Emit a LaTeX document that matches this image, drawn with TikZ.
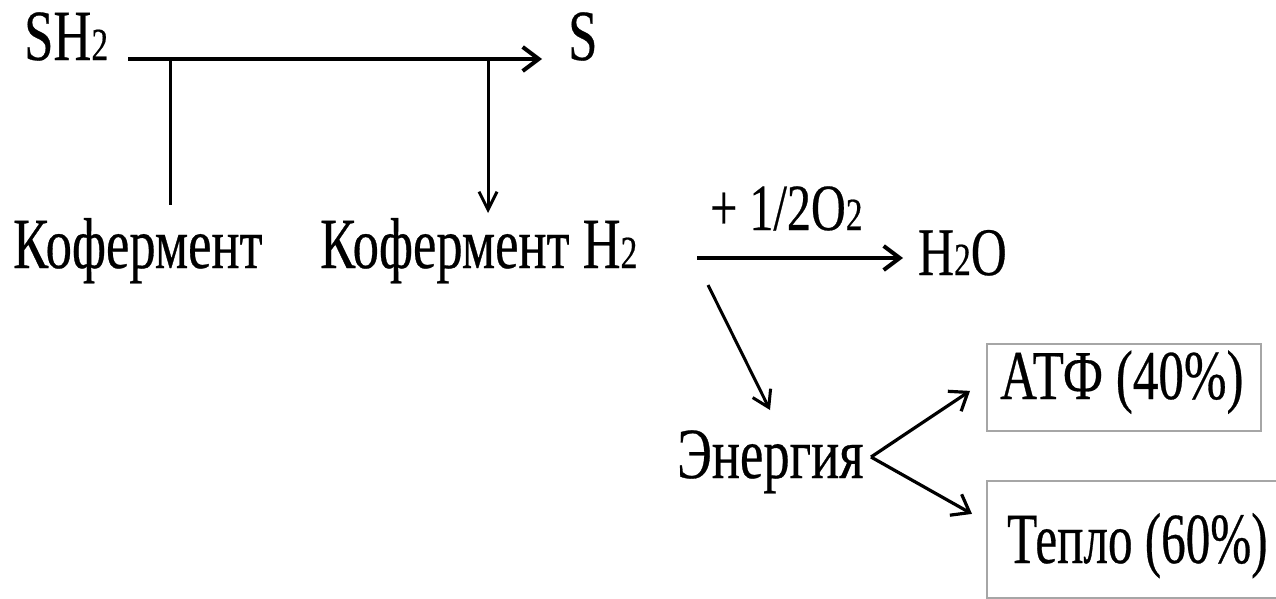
\documentclass[tikz,border=0pt]{standalone}
\usepackage{fontspec}
\setmainfont{Liberation Serif}[FakeStretch=0.73,FakeBold=0.4]
\usetikzlibrary{arrows.meta,calc}
\newcommand\subtwo[1]{{\fontsize{46}{46}\selectfont #1}}
\begin{document}
\begin{tikzpicture}[x=1pt,y=-1pt,
  lbl/.style={inner sep=0pt,anchor=base west,font=\fontsize{72}{80}\selectfont},
  arr/.style={line width=3.2pt,-{Straight Barb[length=16pt,width=24pt]}},
  ln/.style={line width=3pt},
  boxst/.style={draw=black!35,line width=1.8pt,inner sep=0pt,anchor=north west}]
\useasboundingbox (0,0) rectangle (1276,598);
% labels
\node[lbl] (sh2) at (24,60) {SH\subtwo{2}};
\node[lbl] (s) at (568,60) {S};
\node[lbl] (kof) at (13,268) {Кофермент};
\node[lbl] (kofh) at (320,268) {Кофермент H\subtwo{2}};
\node[lbl,font=\fontsize{66}{72}\selectfont] (o2) at (710,230) {+ 1/2O\subtwo{2}};
\node[lbl,font=\fontsize{68}{72}\selectfont] (h2o) at (918,275) {H\subtwo{2}O};
\node[lbl] (en) at (677,478) {Энергия};
\node[boxst,minimum width=274pt,minimum height=87pt] (atf) at (986,343) {};
\node[lbl,font=\fontsize{70}{72}\selectfont] (atft) at (1000,399) {АТФ (40\%)};
\node[boxst,minimum width=320pt,minimum height=117pt] (tep) at (986,480) {};
\node[lbl] (tept) at (1007,563) {\scalebox{0.935}[1]{Тепло (60\%)}};
% connectors
\draw[arr,line width=4pt] ($(sh2.base west)+(104,-1)$) -- ($(s.base west)+(-26,-1)$);
\draw[ln] ($(sh2.base west)+(146,-1)$) -- ($(kof.base west)+(157,-63)$);
\draw[ln,-{Straight Barb[length=18pt,width=18pt]}] ($(s.base west)+(-80,-1)$) -- ($(kofh.base west)+(168,-55)$);
\draw[arr,line width=4pt] ($(o2.base west)+(-13,28)$) -- ($(h2o.base west)+(-15,-17)$);
\draw[ln,-{Straight Barb[length=16pt,width=20pt]}] ($(kofh.base west)+(388,17)$) -- ($(en.base west)+(93,-68)$);
\coordinate (v) at ($(en.base west)+(194,-21)$);
\draw[arr] (v) -- ($(atf.west)+(-16,3.5)$);
\draw[arr] (v) -- ($(tep.west)+(-14,-25.5)$);
\end{tikzpicture}
\end{document}
